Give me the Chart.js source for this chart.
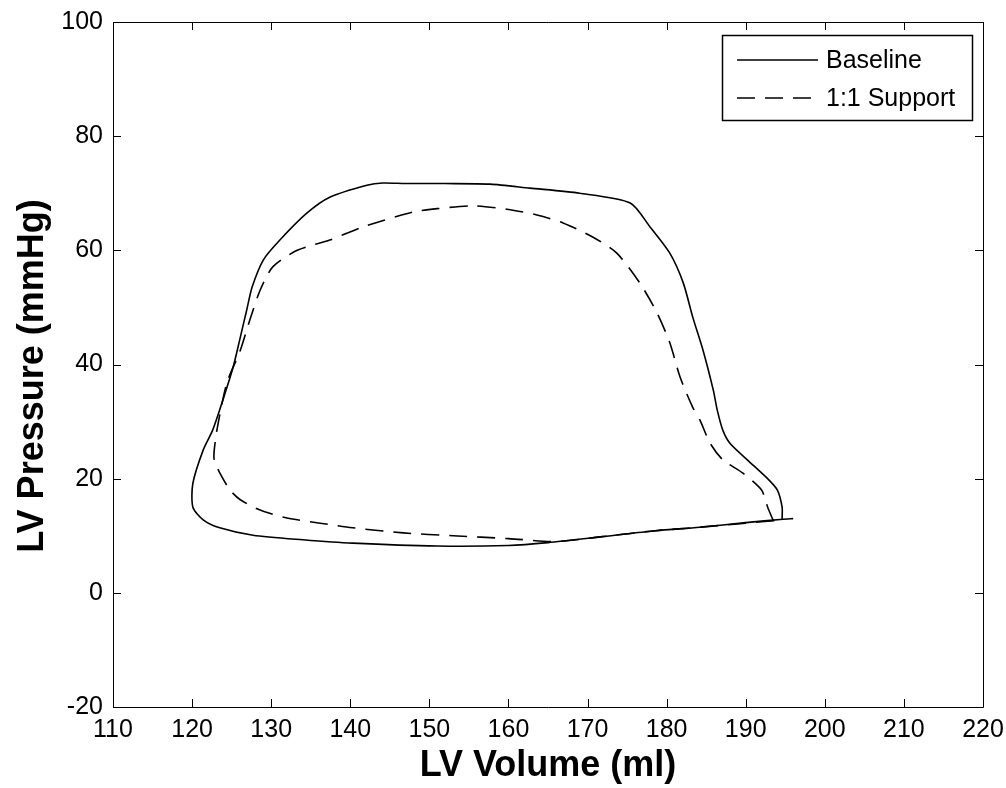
<!DOCTYPE html>
<html>
<head>
<meta charset="utf-8">
<script src="https://cdn.jsdelivr.net/npm/chart.js@4.4.1/dist/chart.umd.min.js"></script>
<style>
  html, body { margin: 0; padding: 0; background: #ffffff; }
  #wrap { width: 1006px; height: 788px; position: relative; }
</style>
</head>
<body>
<div id="wrap"><canvas id="c" width="1006" height="788"></canvas></div>
<script>
// ---- Data (LV volume in ml, LV pressure in mmHg) ----
const baselineVolume = [194.6, 194.6, 194.0, 192.7, 190.2, 188.0, 187.1, 186.4, 185.9, 184.6, 183.3, 182.1, 180.4, 177.9, 175.4, 169.0, 162.7, 157.7, 152.0, 147.0, 144.1, 142.1, 137.4, 134.5, 131.1, 129.0, 127.6, 126.9, 126.1, 125.2, 123.9, 122.6, 121.4, 120.1, 120.1, 121.4, 123.5, 127.7, 134.0, 140.3, 151.0, 160.0, 165.0, 171.6, 178.0, 184.2, 190.0, 194.7, 196.0];
const baselinePressure = [13.0, 15.0, 18.0, 20.1, 23.3, 26.2, 28.5, 32.0, 35.5, 42.5, 48.3, 54.3, 59.5, 64.1, 68.3, 70.0, 70.9, 71.6, 71.7, 71.7, 71.8, 71.4, 69.3, 66.5, 61.8, 58.3, 53.6, 49.5, 44.8, 39.6, 33.8, 28.5, 25.0, 19.2, 15.0, 12.8, 11.4, 10.1, 9.3, 8.7, 8.2, 8.3, 8.8, 9.8, 10.8, 11.5, 12.3, 12.9, 13.0];

const supportVolume = [193.5, 192.8, 192.0, 189.6, 187.1, 185.5, 184.2, 183.3, 181.7, 180.4, 178.8, 176.6, 173.7, 170.7, 166.9, 163.6, 159.8, 155.5, 151.0, 147.9, 141.6, 137.4, 133.3, 130.2, 128.6, 127.3, 126.1, 124.4, 123.2, 122.8, 122.8, 123.5, 124.8, 126.1, 128.6, 132.0, 136.2, 140.3, 146.7, 153.0, 160.0, 166.0, 171.6, 178.0, 184.2, 190.0, 194.0];
const supportPressure = [12.6, 14.9, 18.0, 21.0, 23.3, 26.2, 30.3, 32.5, 37.8, 43.8, 49.0, 54.3, 59.5, 62.3, 64.8, 66.2, 67.2, 67.8, 67.3, 66.7, 64.1, 61.8, 60.0, 57.1, 53.0, 47.8, 42.5, 36.8, 29.0, 25.0, 23.3, 21.0, 18.0, 16.3, 14.5, 13.1, 12.2, 11.4, 10.5, 10.0, 9.5, 9.0, 9.8, 10.8, 11.5, 12.2, 12.7];

const seriesLabels = ['Baseline', '1:1 Support'];
const xTicks = [110, 120, 130, 140, 150, 160, 170, 180, 190, 200, 210, 220];
const yTicks = [-20, 0, 20, 40, 60, 80, 100];
const xTitle = 'LV Volume (ml)';
const yTitle = 'LV Pressure (mmHg)';

function toPoints(xs, ys) { return xs.map((x, i) => ({ x: x, y: ys[i] })); }

const FONT = "'Liberation Sans', Arial, Helvetica, sans-serif";
const DASH = [18, 10];

const bgPlugin = {
  id: 'bg',
  beforeDraw(chart) {
    const ctx = chart.ctx;
    ctx.save();
    ctx.fillStyle = '#ffffff';
    ctx.fillRect(0, 0, chart.width, chart.height);
    ctx.restore();
  }
};

// MATLAB-like box with inward ticks on all four sides
const boxPlugin = {
  id: 'box',
  afterDatasetsDraw(chart) {
    const ctx = chart.ctx;
    const a = chart.chartArea;
    const xs = chart.scales.x, ys = chart.scales.y;
    const L = 8;
    ctx.save();
    ctx.strokeStyle = '#000';
    ctx.lineWidth = 1;
    ctx.beginPath();
    ctx.rect(Math.round(a.left) + 0.5, Math.round(a.top) + 0.5, Math.round(a.right - a.left), Math.round(a.bottom - a.top));
    ctx.stroke();
    ctx.beginPath();
    xTicks.forEach(v => {
      const p = Math.round(xs.getPixelForValue(v)) + 0.5;
      ctx.moveTo(p, a.bottom); ctx.lineTo(p, a.bottom - L);
      ctx.moveTo(p, a.top); ctx.lineTo(p, a.top + L);
    });
    yTicks.forEach(v => {
      const p = Math.round(ys.getPixelForValue(v)) + 0.5;
      ctx.moveTo(a.left, p); ctx.lineTo(a.left + L, p);
      ctx.moveTo(a.right, p); ctx.lineTo(a.right - L, p);
    });
    ctx.stroke();
    ctx.restore();
  }
};

// y-axis title, placed like the reference
const yTitlePlugin = {
  id: 'yTitle',
  afterDraw(chart) {
    const ctx = chart.ctx;
    ctx.save();
    ctx.translate(33, 376);
    ctx.rotate(-Math.PI / 2);
    ctx.font = 'bold 36px ' + FONT;
    ctx.fillStyle = '#000';
    ctx.textAlign = 'center';
    ctx.textBaseline = 'middle';
    ctx.fillText(yTitle, 0, 0);
    ctx.restore();
  }
};

// Boxed legend inside the top-right corner of the plot
const legendPlugin = {
  id: 'boxLegend',
  afterDraw(chart) {
    const ctx = chart.ctx;
    const a = chart.chartArea;
    const w = 250, h = 85;
    const right = a.right - 11, top = a.top + 13;
    const left = right - w;
    ctx.save();
    ctx.fillStyle = '#fff';
    ctx.fillRect(left, top, w, h);
    ctx.strokeStyle = '#000';
    ctx.lineWidth = 1.5;
    ctx.strokeRect(Math.round(left) + 0.5, Math.round(top) + 0.5, w, h);
    ctx.font = '25px ' + FONT;
    ctx.textBaseline = 'middle';
    ctx.textAlign = 'left';
    ctx.fillStyle = '#000';
    const rows = [top + 25, top + 63];
    chart.data.datasets.forEach((ds, i) => {
      const y = rows[i];
      ctx.beginPath();
      ctx.setLineDash(ds.borderDash || []);
      ctx.lineWidth = 1.5;
      ctx.moveTo(left + 15, y);
      ctx.lineTo(left + 96, y);
      ctx.stroke();
      ctx.setLineDash([]);
      ctx.fillText(ds.label, left + 104, y + 1);
    });
    ctx.restore();
  }
};

function zeroPad(scale) {
  scale.paddingLeft = 0; scale.paddingRight = 0;
  scale.paddingTop = 0; scale.paddingBottom = 0;
}

new Chart(document.getElementById('c'), {
  type: 'scatter',
  data: {
    datasets: [
      {
        label: seriesLabels[0],
        data: toPoints(baselineVolume, baselinePressure),
        showLine: true,
        borderColor: '#000',
        backgroundColor: '#000',
        borderWidth: 1.6,
        pointRadius: 0,
        tension: 0.25
      },
      {
        label: seriesLabels[1],
        data: toPoints(supportVolume, supportPressure),
        showLine: true,
        borderColor: '#000',
        backgroundColor: '#000',
        borderWidth: 1.6,
        borderDash: DASH,
        pointRadius: 0,
        tension: 0.25
      }
    ]
  },
  options: {
    responsive: false,
    animation: false,
    layout: { padding: { top: 22, right: 23, left: 0, bottom: 0 } },
    plugins: { legend: { display: false }, tooltip: { enabled: false } },
    scales: {
      x: {
        type: 'linear',
        min: 110, max: 220,
        afterBuildTicks(scale) { scale.ticks = xTicks.map(v => ({ value: v })); },
        afterFit(scale) { scale.height = 81; zeroPad(scale); },
        grid: { display: false, drawTicks: false },
        border: { display: false },
        ticks: { color: '#000', padding: 8, maxRotation: 0, autoSkip: false, font: { family: FONT, size: 25 } },
        title: { display: true, text: xTitle, color: '#000', padding: { top: 0, bottom: 0 }, font: { family: FONT, size: 36, weight: 'bold' } }
      },
      y: {
        type: 'linear',
        min: -20, max: 100,
        afterBuildTicks(scale) { scale.ticks = yTicks.map(v => ({ value: v })); },
        afterFit(scale) { scale.width = 113; zeroPad(scale); },
        grid: { display: false, drawTicks: false },
        border: { display: false },
        ticks: { color: '#000', padding: 10, autoSkip: false, font: { family: FONT, size: 25 } },
        title: { display: false, text: yTitle }
      }
    }
  },
  plugins: [bgPlugin, boxPlugin, legendPlugin, yTitlePlugin]
});
</script>
</body>
</html>
